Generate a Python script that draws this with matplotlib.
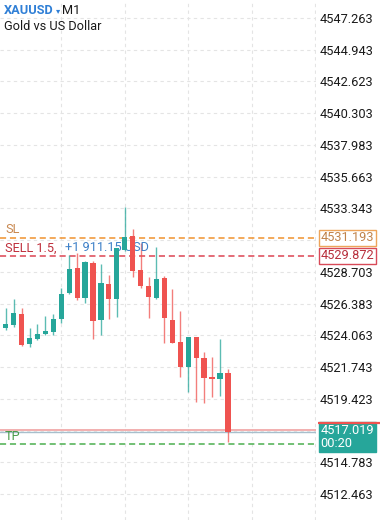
import matplotlib.pyplot as plt
from matplotlib.transforms import blended_transform_factory, offset_copy

plt.rcParams['font.family'] = ['Roboto', 'DejaVu Sans']

# M1 candles, oldest -> newest
opens = [4524.57, 4524.82, 4525.63, 4523.40, 4523.80, 4524.13, 4524.33, 4525.26,
         4527.14, 4528.99, 4526.83, 4529.39, 4525.19, 4527.80, 4526.72, 4530.30,
         4531.33, 4528.84, 4527.67, 4526.82, 4528.24, 4525.22, 4523.56, 4521.77,
         4523.92, 4522.39, 4521.04, 4520.87, 4521.29]
highs = [4526.06, 4526.72, 4526.10, 4524.58, 4524.87, 4525.48, 4525.60, 4527.55,
         4529.94, 4530.06, 4529.50, 4529.50, 4529.26, 4528.48, 4530.45, 4533.47,
         4531.82, 4530.84, 4528.33, 4530.55, 4528.40, 4527.42, 4525.87, 4523.98,
         4523.94, 4522.87, 4522.50, 4523.78, 4521.58]
lows = [4524.42, 4524.70, 4523.32, 4523.21, 4523.76, 4524.09, 4524.09, 4524.99,
        4527.12, 4526.65, 4526.43, 4523.80, 4524.09, 4525.26, 4525.43, 4530.23,
        4528.35, 4527.50, 4525.31, 4526.72, 4523.48, 4523.51, 4521.04, 4519.95,
        4519.22, 4519.14, 4519.58, 4519.63, 4516.25]
closes = [4524.90, 4525.68, 4523.36, 4523.85, 4524.14, 4524.35, 4525.24, 4527.11,
          4528.94, 4526.82, 4529.43, 4525.11, 4527.87, 4526.72, 4530.43, 4531.25,
          4528.77, 4527.69, 4526.85, 4528.21, 4525.31, 4523.53, 4521.73, 4523.96,
          4522.39, 4520.97, 4520.87, 4521.34, 4517.02]

tick_top = 4547.263
tick_step = 2.32
n_ticks = 16
hidden_ticks = [7, 13]  # covered by the SL box and the price box

symbol = 'XAUUSD'
timeframe = 'M1'
description = 'Gold vs US Dollar'
sl_price = 4531.193
entry_price = 4529.872
tp_price = 4516.12
bid_price = 4517.019
ask_price = 4517.131
lots = 1.5
profit = 1911.15
countdown = '00:20'

GREEN = '#26a69a'
RED = '#ef5350'
FS = 9.2

fig = plt.figure(figsize=(3.89, 5.2), dpi=100)
ax = fig.add_axes([0, 0, 316 / 389, 1])

x = list(range(len(opens)))
for i in x:
    up = closes[i] >= opens[i]
    col = GREEN if up else RED
    ax.vlines(i, lows[i], highs[i], color=col, lw=1, alpha=0.75, zorder=3)
    lo = min(opens[i], closes[i])
    h = max(abs(closes[i] - opens[i]), 0.12)
    ax.bar(i, h, bottom=lo, width=0.66, color=col, zorder=4)

ax.set_xlim(-0.72, 39.1)
ax.set_ylim(tick_top - 36.696, tick_top + 1.316)

ticks = [tick_top - tick_step * k for k in range(n_ticks)]
labels = ['' if k in hidden_ticks else f'{t:.3f}' for k, t in enumerate(ticks)]
ax.set_yticks(ticks)
ax.set_yticklabels(labels)
ax.yaxis.tick_right()
ax.tick_params(axis='y', length=0, pad=2.8, labelsize=FS, labelcolor='#1a1a1a')
ax.set_xticks([7, 15, 23, 31, 39])
ax.tick_params(axis='x', length=0, labelbottom=False)
ax.grid(True, color='#e4e4e4', lw=0.8, ls=(0, (3, 3)))
ax.set_axisbelow(True)
for s in ax.spines.values():
    s.set_visible(False)

# order / price lines
ax.axhline(sl_price, color='#f0922e', lw=1.1, ls=(0, (4, 2.5)), zorder=2)
ax.axhline(entry_price, color='#dc4452', lw=1.1, ls=(0, (4, 2.5)), zorder=2)
ax.axhline(tp_price, color='#4caf50', lw=1.1, ls=(0, (4, 2.5)), zorder=2)
ax.axhline(ask_price, color='#ef9a9a', lw=1.1, zorder=2)
ax.axhline(bid_price, color='#a8bfcc', lw=1.0, zorder=2)

left = blended_transform_factory(ax.transAxes, ax.transData)
ax.annotate('SL', xy=(0.016, sl_price), xycoords=left, xytext=(0, 5.8),
            textcoords='offset points', va='center', fontsize=FS, color='#c8874e')
sell = ax.annotate(f'SELL {lots},', xy=(0.016, entry_price), xycoords=left,
                   xytext=(0, 5.8), textcoords='offset points', va='center',
                   fontsize=FS, color='#bf2f3c')
ax.annotate(f'{profit:+,.2f} USD'.replace(',', ' '), xy=(1, 0.5), xycoords=sell,
            xytext=(5.8, 0), textcoords='offset points', va='center',
            fontsize=FS, color='#3d80c8')
ax.annotate('TP', xy=(0.016, tp_price), xycoords=left, xytext=(0, 5.2),
            textcoords='offset points', va='center', fontsize=FS, color='#4a9a4a')

# right-hand price boxes
def price_box(price, text_col, edge):
    ax.annotate(f'{price:.3f}', xy=(1, price), xycoords=left, xytext=(3.2, 0),
                textcoords='offset points', va='center', fontsize=FS, color=text_col,
                annotation_clip=False,
                bbox=dict(boxstyle='square,pad=0.14', fc='white', ec=edge, lw=1))

price_box(sl_price, '#c0834b', '#eda45a')
price_box(entry_price, '#b82f3c', '#d84a58')
ax.annotate(f'{bid_price:.3f}\n{countdown}', xy=(1, bid_price), xycoords=left,
            xytext=(3.2, 5.5), textcoords='offset points', va='top', fontsize=FS,
            color='white', linespacing=1.0, annotation_clip=False,
            bbox=dict(boxstyle='square,pad=0.14', fc=GREEN, ec=GREEN, lw=1))
# ask marker peeking above the bid box
ask_tr = offset_copy(left, fig=fig, y=6.6, units='points')
ax.plot([1.006, 1.203], [bid_price, bid_price], transform=ask_tr, color=RED,
        lw=1.6, clip_on=False, solid_capstyle='butt', zorder=6)

# header
fig.text(4 / 389, 1 - 11 / 520, symbol, color='#2f7fd6', weight='bold',
         fontsize=FS, va='center')
fig.text(56 / 389, 1 - 11 / 520, '▾', color='#2f7fd6', fontsize=6, va='center')
fig.text(62 / 389, 1 - 11 / 520, timeframe, color='#1a1a1a', fontsize=FS, va='center')
fig.text(4 / 389, 1 - 26 / 520, description, color='#1a1a1a', fontsize=FS, va='center')

fig.savefig('out.png', dpi=100, facecolor='white')
